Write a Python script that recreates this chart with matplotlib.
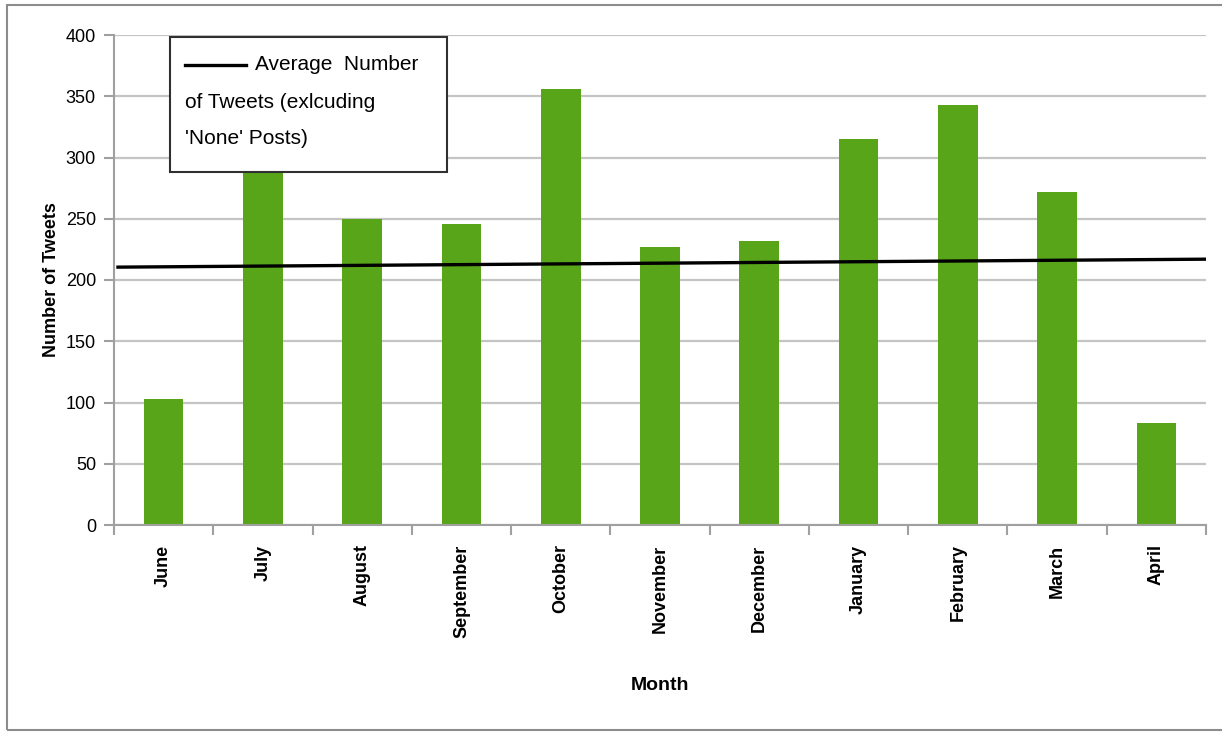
import matplotlib
matplotlib.use("Agg")
import matplotlib.pyplot as plt
from matplotlib.patches import Rectangle
from matplotlib.lines import Line2D
import numpy as np

months = ["June", "July", "August", "September", "October", "November",
          "December", "January", "February", "March", "April"]
tweets = [103, 295, 250, 246, 356, 227, 232, 315, 343, 272, 83]
avg_x = [-0.46, 10.5]
avg_y = [210.5, 217]
yticks = [0, 50, 100, 150, 200, 250, 300, 350, 400]

plt.rcParams['font.family'] = ['Liberation Sans', 'DejaVu Sans']

W, H = 1222, 733
fig = plt.figure(figsize=(W / 100, H / 100), dpi=100)
fig.patch.set_facecolor("white")

# outer chart border
fig.add_artist(Rectangle((7 / W, 3 / H), 1.2, (730 - 5) / H, transform=fig.transFigure,
                         fill=False, edgecolor="#8c8c8c", linewidth=1.5))

ax = fig.add_axes([114 / W, 1 - 525 / H, (1206 - 114) / W, (525 - 35) / H])
x = np.arange(len(months))
ax.bar(x, tweets, width=0.4, color="#58a51a", zorder=2)
ax.plot(avg_x, avg_y, color="black", linewidth=2.4, zorder=3)

ax.set_xlim(-0.5, len(months) - 0.5)
ax.set_ylim(0, 400)
ax.set_yticks(yticks)
ax.set_yticklabels([str(v) for v in yticks], fontsize=13)
ax.yaxis.grid(True, color="#c4c4c4", linewidth=1.6, zorder=0)
ax.set_axisbelow(True)

ax.set_xticks(x)
ax.set_xticklabels(months, rotation=90, fontsize=13, fontweight="bold", va="top")
ax.set_xticks(np.arange(-0.5, len(months) + 0.5, 1), minor=True)
ax.tick_params(axis="x", which="major", length=0, pad=14)
ax.tick_params(axis="x", which="minor", length=7, color="#a0a0a0", width=1.5)
ax.tick_params(axis="y", length=7, color="#a0a0a0", width=1.5, pad=6)

for s in ["top", "right"]:
    ax.spines[s].set_visible(False)
for s in ["left", "bottom"]:
    ax.spines[s].set_color("#a0a0a0")
    ax.spines[s].set_linewidth(1.5)

ax.set_ylabel("Number of Tweets", fontsize=13, fontweight="bold", labelpad=4)
ax.set_xlabel("Month", fontsize=14, fontweight="bold", labelpad=28)

# legend box (manual, wrapped text)
fig.add_artist(Rectangle((170 / W, 1 - 172 / H), (447 - 170) / W, (172 - 37) / H,
                         transform=fig.transFigure, facecolor="white",
                         edgecolor="#303030", linewidth=1.5, zorder=10))
fig.add_artist(Line2D([185 / W, 246 / W], [1 - 65 / H, 1 - 65 / H], transform=fig.transFigure,
                      color="black", linewidth=2.4, zorder=11))
fig.text(255 / W, 1 - 65 / H, "Average  Number", fontsize=15, va="center", ha="left", zorder=11)
fig.text(185 / W, 1 - 102 / H, "of Tweets (exlcuding", fontsize=15, va="center", ha="left", zorder=11)
fig.text(185 / W, 1 - 138 / H, "'None' Posts)", fontsize=15, va="center", ha="left", zorder=11)

fig.savefig("out.png", dpi=100)
